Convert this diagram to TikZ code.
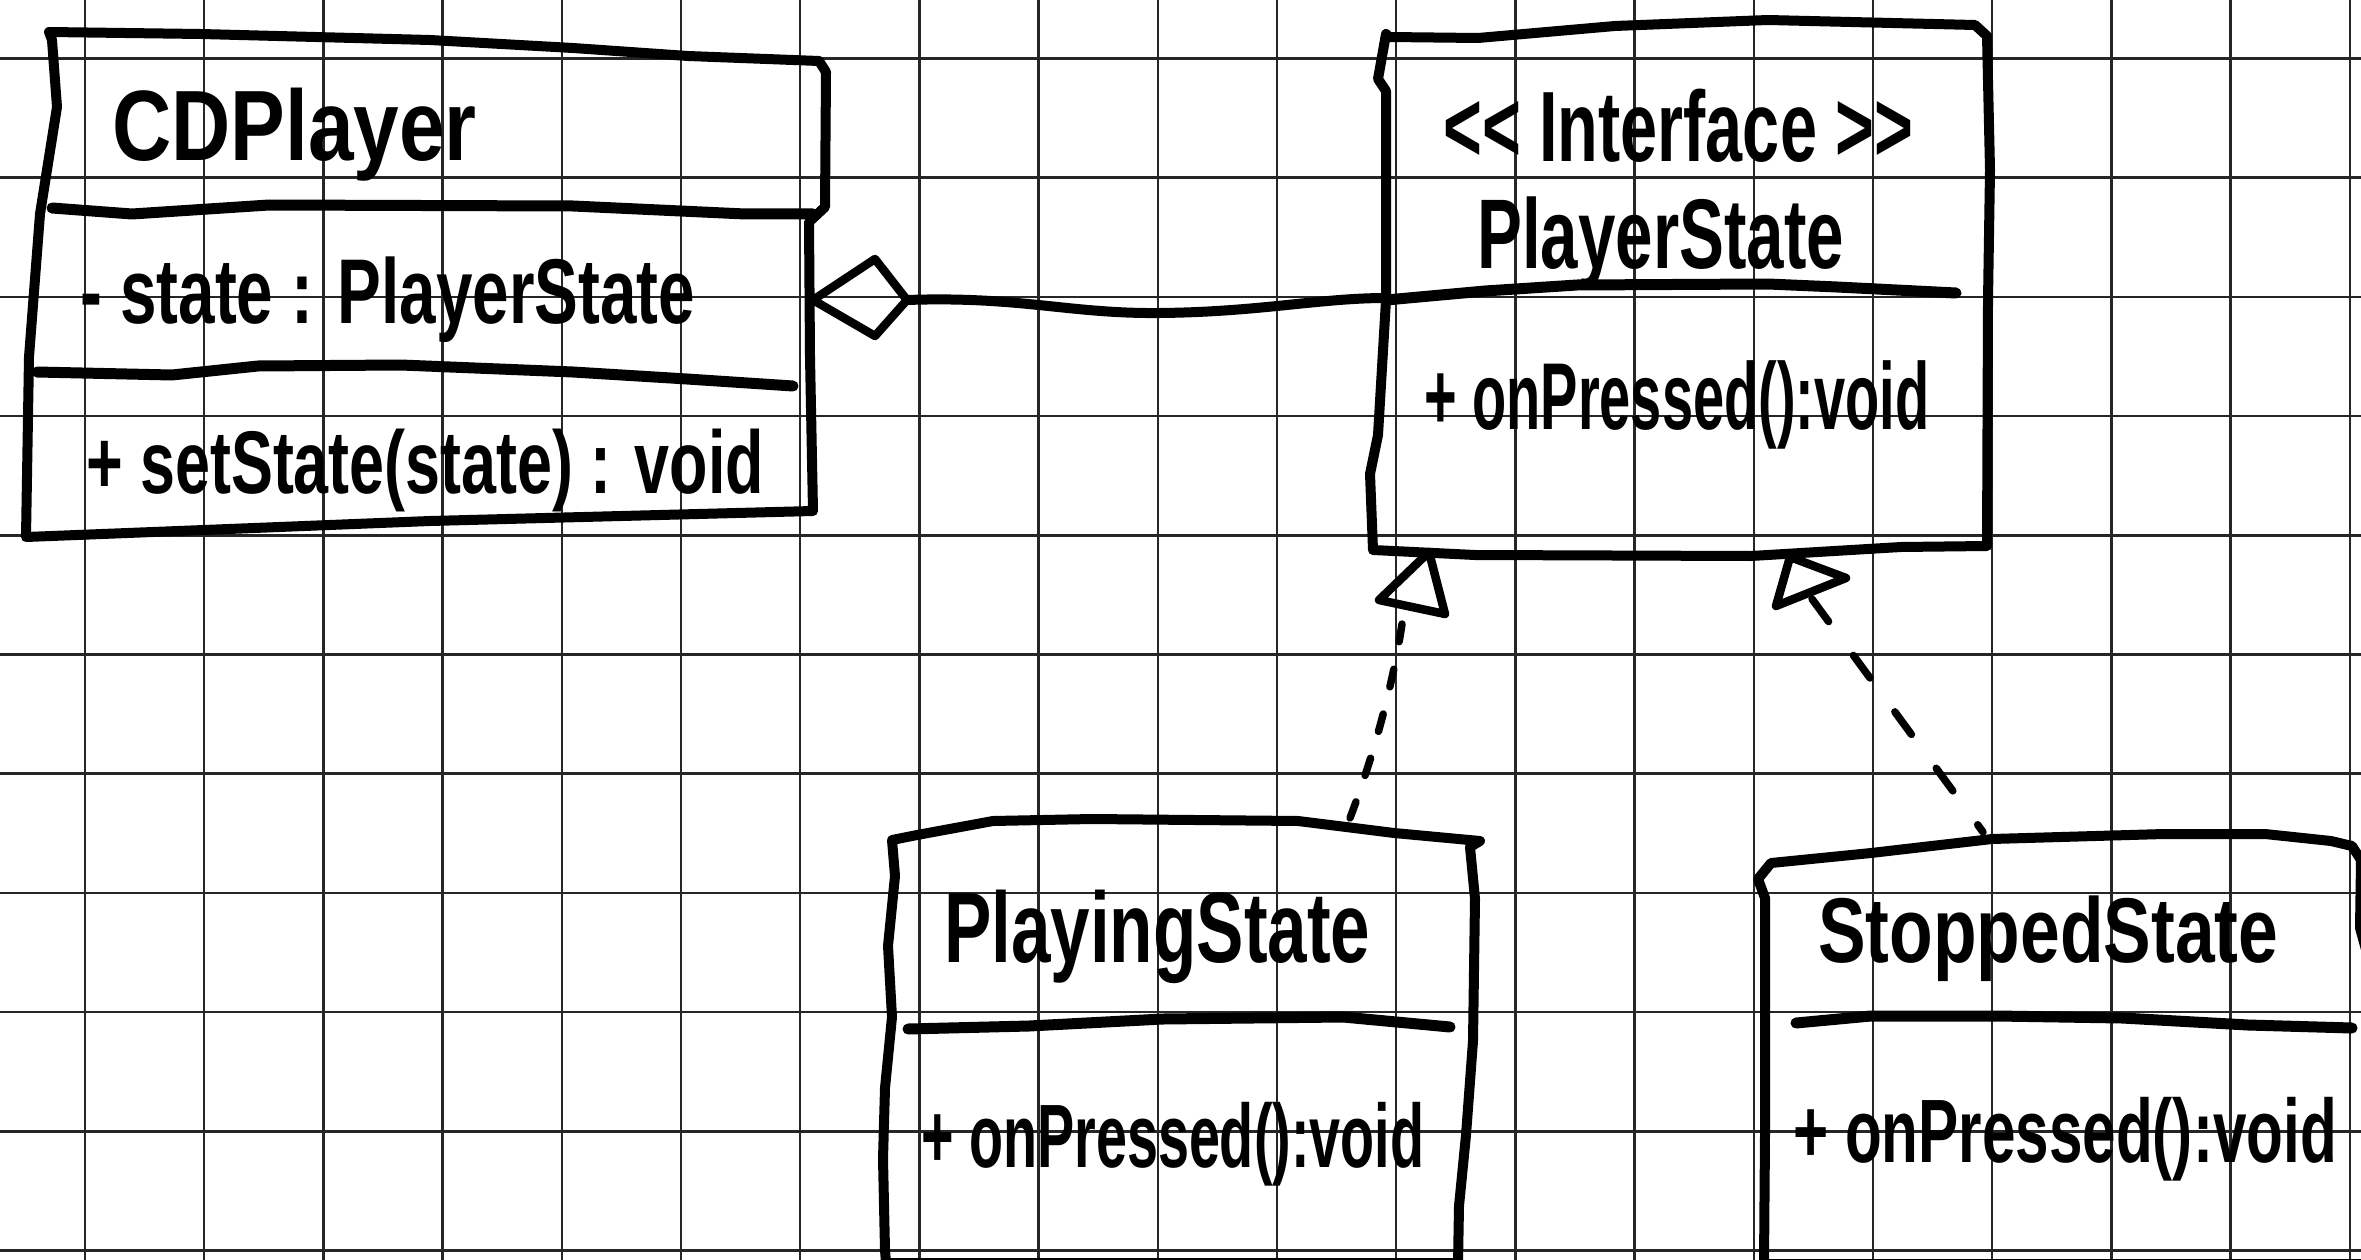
\documentclass[tikz,border=0pt]{standalone}
\usepackage{fontspec}
\setmainfont{Liberation Sans}
\usepackage{graphicx}
\newcommand{\hw}[3]{\fontsize{#2}{#2}\selectfont\bfseries\scalebox{#1}[1]{#3}}
\tikzset{
  gridline/.style={line width=2.5pt, black!85},
  boxline/.style={line width=10pt, line join=round, line cap=round},
  divline/.style={line width=11pt, line cap=round, line join=round},
  conn/.style={line width=10pt, line cap=round, line join=round},
  headline/.style={line width=8.5pt, line join=round, line cap=round},
  dashconn/.style={line width=7.5pt, line cap=round},
  txt/.style={inner sep=0pt, anchor=base west},
}
\begin{document}
\begin{tikzpicture}[x=1pt,y=-1pt]
\useasboundingbox[fill=white] (0,0) rectangle (2361,1260);

% grid paper
\foreach \i in {0,...,19} \draw[gridline] ({85+119.2*\i},0) -- ({85+119.2*\i},1260);
\foreach \j in {0,...,10} \draw[gridline] (0,{58.5+119.2*\j}) -- (2361,{58.5+119.2*\j});

% ---------- CDPlayer ----------
\draw[boxline] (49,32) -- (201,34) -- (430,40) -- (573,48) -- (688,56) -- (819,61) -- (826,72)
  -- (825,207) -- (809,222) -- (810,357) -- (813,511) -- (430,521) -- (229,529) -- (26,537)
  -- (29,357) -- (40,214) -- (57,107) -- (52,40) -- cycle;
\draw[divline] (52,208) -- (132,214) -- (269,205) -- (573,206) -- (745,214) -- (813,214);
\draw[divline] (37,372) -- (172,375) -- (258,366) -- (401,365) -- (573,372) -- (687,379) -- (793,386);
\node[txt] (cdp-name) at (112,161) {\hw{0.82}{100}{CDPlayer}};
\node[txt] (cdp-attr) at (80,323) {\hw{0.713}{92}{- state : PlayerState}};
\node[txt] (cdp-op) at (86,493) {\hw{0.706}{89}{+ setState(state) : void}};

% ---------- PlayerState ----------
\draw[boxline] (1389,37) -- (1478,38) -- (1615,26) -- (1768,20) -- (1975,25) -- (1987,36)
  -- (1990,170) -- (1988,300) -- (1987,546) -- (1901,547) -- (1751,556) -- (1475,555)
  -- (1373,550) -- (1370,474) -- (1378,435) -- (1386,300) -- (1386,91) -- (1378,79) -- (1386,34) -- cycle;
\draw[divline] (1386,300) -- (1485,291) -- (1577,285) -- (1768,284) -- (1837,287) -- (1956,293);
\node[txt] (ps-stereo) at (1443,162) {\hw{0.666}{100}{<{}< Interface >{}>}};
\node[txt] (ps-name) at (1477,269) {\hw{0.68}{99}{PlayerState}};
\node[txt] (ps-op) at (1424,429) {\hw{0.589}{95}{+ onPressed():void}};

% ---------- PlayingState ----------
\draw[boxline] (892,840) -- (917,835) -- (993,821) -- (1092,819) -- (1298,821) -- (1394,833)
  -- (1480,841) -- (1470,847) -- (1475,899) -- (1473,1041) -- (1466,1135) -- (1459,1206)
  -- (1458,1263) -- (886,1263) -- (885,1250) -- (883,1159) -- (885,1088) -- (892,1017)
  -- (888,946) -- (895,876) -- cycle;
\draw[divline] (908,1029) -- (1029,1026) -- (1163,1019) -- (1343,1017) -- (1450,1027);
\node[txt] (pls-name) at (944,962) {\hw{0.71}{100}{PlayingState}};
\node[txt] (pls-op) at (921,1167) {\hw{0.619}{90}{+ onPressed():void}};

% ---------- StoppedState ----------
\draw[boxline] (1758,879) -- (1771,863) -- (1871,853) -- (1992,839) -- (2164,834) -- (2265,834)
  -- (2331,841) -- (2352,846) -- (2361,860) -- (2360,928) -- (2380,1000) -- (2385,1264)
  -- (1764,1264) -- (1765,1134) -- (1765,898) -- cycle;
\draw[divline] (1796,1023) -- (1871,1016) -- (1997,1016) -- (2122,1018) -- (2248,1025) -- (2352,1028);
\node[txt] (sts-name) at (1818,962) {\hw{0.776}{92}{StoppedState}};
\node[txt] (sts-op) at (1793,1162) {\hw{0.669}{90}{+ onPressed():void}};

% ---------- connector end points ----------
\coordinate (cdp-east) at (813,300);
\coordinate (dia-tip) at (907,300);
\coordinate (ps-west) at (1386,298);
\coordinate (tri1-apex) at (1429,552);
\coordinate (tri1-base) at (1402,624);
\coordinate (pls-top) at (1350,818);
\coordinate (tri2-apex) at (1790,557);
\coordinate (tri2-base) at (1812,599);
\coordinate (sts-top) at (1983,832);

% aggregation CDPlayer <>--- PlayerState
\draw[headline] (cdp-east) -- (875,259) -- (dia-tip) -- (875,336) -- cycle;
\draw[conn] (dia-tip) .. controls (1020,296) and (1070,314) .. (1160,313)
  .. controls (1260,312) and (1320,298) .. (ps-west);

% realization PlayingState ..|> PlayerState
\draw[headline] (tri1-apex) -- (1445,614) -- (1379,600) -- cycle;
\draw[dashconn, dash pattern=on 18pt off 28pt] (tri1-base) .. controls (1392,690) and (1372,760) .. (pls-top);

% realization StoppedState ..|> PlayerState
\draw[headline] (tri2-apex) -- (1846,578) -- (1776,606) -- cycle;
\draw[dashconn, dash pattern=on 28pt off 42pt] (tri2-base) -- (sts-top);
\end{tikzpicture}
\end{document}
